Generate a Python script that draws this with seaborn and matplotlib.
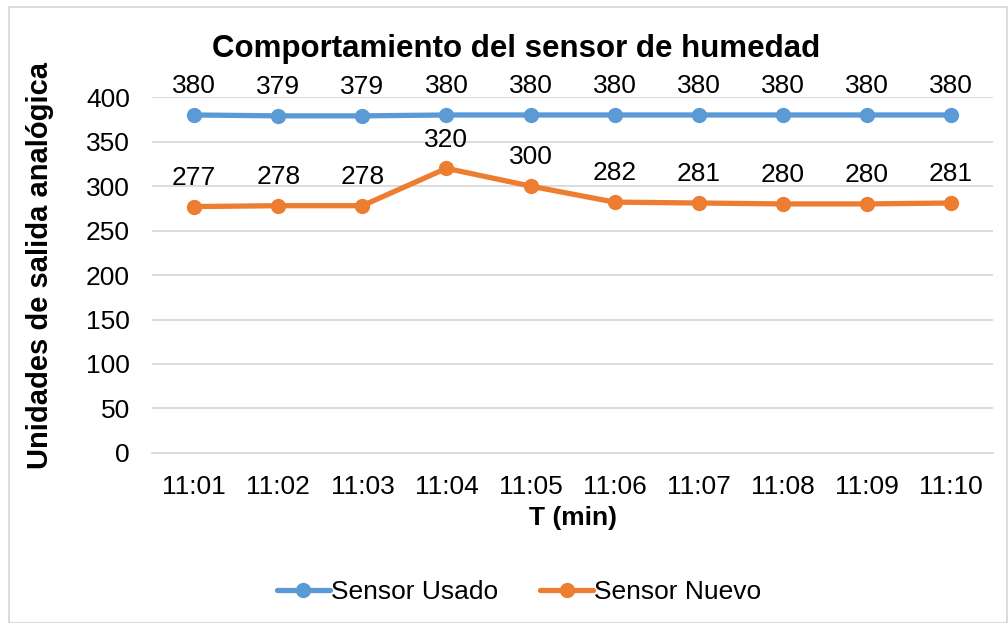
import pandas as pd
import matplotlib.pyplot as plt
import seaborn as sns
from matplotlib.patches import Rectangle

# Datos
tiempos = ["11:01", "11:02", "11:03", "11:04", "11:05", "11:06", "11:07", "11:08", "11:09", "11:10"]
sensor_usado = [380, 379, 379, 380, 380, 380, 380, 380, 380, 380]
sensor_nuevo = [277, 278, 278, 320, 300, 282, 281, 280, 280, 281]
y_ticks = [0, 50, 100, 150, 200, 250, 300, 350, 400]

series = ["Sensor Usado", "Sensor Nuevo"]
colores = {"Sensor Usado": "#5B9BD5", "Sensor Nuevo": "#ED7D31"}

df = pd.DataFrame({
    "T": tiempos * 2,
    "valor": sensor_usado + sensor_nuevo,
    "serie": [series[0]] * len(tiempos) + [series[1]] * len(tiempos),
})

sns.set_style("white")
plt.rcParams["font.family"] = ["Liberation Sans", "DejaVu Sans"]
plt.rcParams["text.color"] = "black"
plt.rcParams["axes.labelcolor"] = "black"
plt.rcParams["xtick.color"] = "black"
plt.rcParams["ytick.color"] = "black"

FS = 19

fig = plt.figure(figsize=(10.08, 6.23), dpi=100)
ax = fig.add_axes([0.151, 0.273, 0.834, 0.571])

sns.lineplot(data=df, x="T", y="valor", hue="serie", palette=colores,
             marker="o", markersize=11, markeredgewidth=0, linewidth=3.8,
             sort=False, ax=ax, legend=False)

# etiquetas de datos
for s in series:
    sub = df[df["serie"] == s]
    for i, v in enumerate(sub["valor"]):
        ax.annotate(str(v), (i, v), xytext=(0, 12), textcoords="offset points",
                    ha="center", va="bottom", fontsize=FS, color="black")

ax.set_xlim(-0.5, len(tiempos) - 0.5)
ax.set_ylim(0, 400)
ax.set_yticks(y_ticks)
ax.yaxis.grid(True, color="#D9D9D9", linewidth=1.3)
ax.set_axisbelow(True)
for sp in ["top", "right", "left"]:
    ax.spines[sp].set_visible(False)
ax.spines["bottom"].set_color("#D9D9D9")
ax.spines["bottom"].set_linewidth(1.3)
ax.tick_params(axis="both", length=0, labelsize=FS)
ax.tick_params(axis="y", pad=16)
ax.tick_params(axis="x", pad=16)

ax.set_xlabel("T (min)", fontsize=FS, fontweight="bold", labelpad=5)
ax.set_ylabel("Unidades de salida analógica", fontsize=21, fontweight="bold")
ax.yaxis.set_label_coords(-0.117, 0.528)
fig.text(0.512, 0.922, "Comportamiento del sensor de humedad", ha="center", va="center",
         fontsize=22.5, fontweight="bold")

# leyenda
handles = [plt.Line2D([0], [0], color=colores[s], marker="o", markersize=11,
                      linewidth=3.8, markeredgewidth=0) for s in series]
fig.legend(handles, series, loc="center", bbox_to_anchor=(0.515, 0.05), ncol=2,
           frameon=False, fontsize=FS, handlelength=2.0, handletextpad=0.05,
           columnspacing=1.6)

# borde del gráfico
fig.patches.append(Rectangle((0.009, 0.0), 0.99, 0.988, transform=fig.transFigure,
                             fill=False, edgecolor="#D9D9D9", linewidth=1.3))

plt.savefig("out.png", dpi=100)
plt.close()
